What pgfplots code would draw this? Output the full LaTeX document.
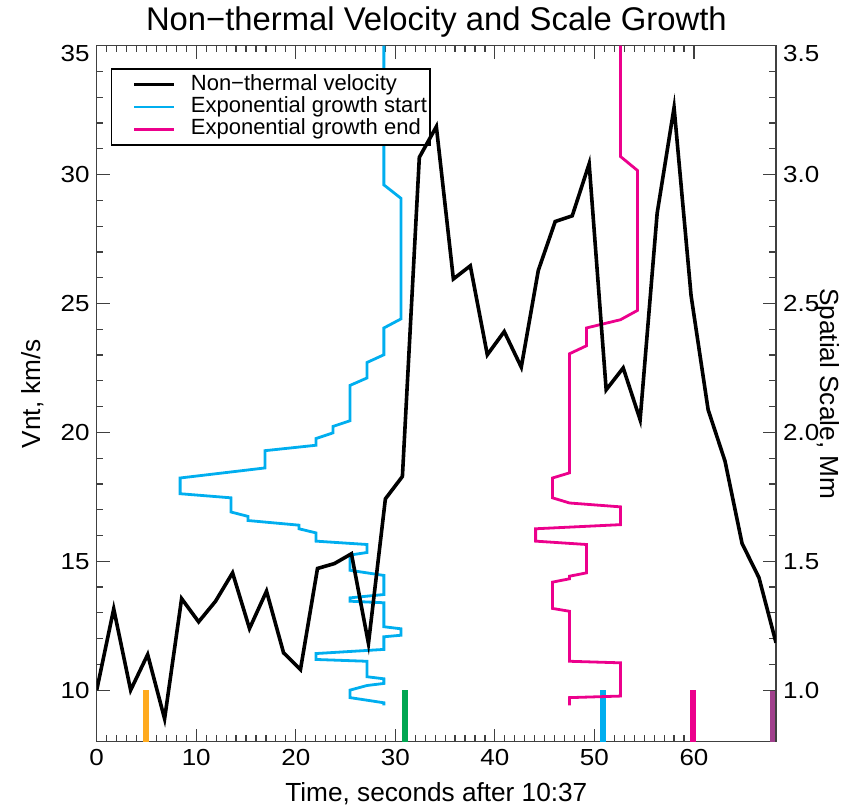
\documentclass[border=0pt]{standalone}
\usepackage{fontspec}
\setmainfont{Liberation Sans}
\newfontfamily\tickfont{Liberation Sans}[FakeStretch=1.12]
\usepackage{pgfplots}
\pgfplotsset{compat=1.18}
\definecolor{cblue}{RGB}{0,174,239}
\definecolor{cpink}{RGB}{236,0,140}
\definecolor{corange}{RGB}{255,170,30}
\definecolor{cgreen}{RGB}{0,166,81}
\definecolor{cpurple}{RGB}{160,64,140}
\begin{document}
\begin{tikzpicture}
\path[use as bounding box] (-48.35pt,-32.65pt) rectangle (376.15pt,370.85pt);
\pgfplotsset{
  common/.style={
    scale only axis, width=339.65pt, height=348pt,
    xmin=0, xmax=68.24,
    tick align=inside,
    major tick length=6.5pt, minor tick length=3.3pt,
    every tick/.style={black!75, line width=0.6pt},
    axis line style={black!75, line width=0.6pt},
    tick label style={font=\tickfont\fontsize{11.6}{11.6}\selectfont},
    label style={font=\fontsize{13.1}{13.1}\selectfont},
    /pgf/number format/assume math mode=true,
  }
}
\begin{axis}[common,
  ymin=8, ymax=35,
  xtick={0,10,...,60}, minor x tick num=9,
  ytick={10,15,...,35}, minor y tick num=4,
  yticklabels={10,15,20,25,30,\raisebox{-4pt}[\height][\depth]{35}},
  ytick pos=left,
  xticklabel style={yshift=-0.5pt},
  xlabel={Time, seconds after 10:37},
  ylabel={Vnt, km/s},
  xlabel style={at={(axis description cs:0.5,-0.074)}, anchor=center},
  ylabel style={at={(axis description cs:-0.094,0.5)}, anchor=center},
  title={Non−thermal Velocity and Scale Growth},
  every axis title/.style={font=\fontsize{16.4}{16.4}\selectfont, at={(axis description cs:0.5,1.034)}, anchor=center},
]
\addplot[corange, line width=3pt] coordinates {(4.98,8) (4.98,10)};
\addplot[cgreen, line width=3pt] coordinates {(30.93,8) (30.93,10)};
\addplot[cblue, line width=3pt] coordinates {(50.85,8) (50.85,10)};
\addplot[cpink, line width=3pt] coordinates {(59.9,8) (59.9,10)};
\addplot[cpurple, line width=3pt] coordinates {(67.9,8) (67.9,10)};
\end{axis}
\begin{axis}[common,
  ymin=0.8, ymax=3.5,
  axis x line=none,
  axis y line*=right,
  ytick={1,1.5,...,3.5}, minor y tick num=4,
  yticklabels={1.0,1.5,2.0,2.5,3.0,\raisebox{-4pt}[\height][\depth]{3.5}},
  ylabel={Spatial Scale, Mm},
  ylabel style={at={(axis description cs:1.076,0.5)}, anchor=center, rotate=180},
  legend style={at={(axis description cs:0.0206,0.9675)}, anchor=north west,
    font=\fontsize{11}{11}\selectfont, draw=black, line width=0.6pt,
    inner xsep=1.5pt, inner ysep=2.6pt, row sep=0.65pt, column sep=0pt,
    nodes={inner sep=0pt, text height=8pt, text depth=2.5pt},
    cells={anchor=west}},
  legend image code/.code={\path (0pt,0pt) (36.5pt,0pt); \draw[#1] (9pt,0pt) -- (29pt,0pt);},
  legend cell align=left,
]
\addlegendimage{black, line width=1.8pt}
\addlegendentry{Non−thermal velocity}
\addplot[cblue, line width=1.4pt] coordinates {
(28.85,3.5) (28.85,2.960) (30.56,2.908) (30.56,2.440) (28.85,2.405)
(28.85,2.301) (27.15,2.271) (27.15,2.211) (25.44,2.182) (25.44,2.045)
(23.73,2.023) (23.73,1.998) (22.03,1.976) (22.03,1.950) (16.91,1.929)
(16.91,1.862) (8.38,1.823) (8.38,1.762) (13.50,1.746) (13.50,1.691)
(15.20,1.674) (15.20,1.658) (20.32,1.640) (20.32,1.626) (22.03,1.610)
(22.03,1.578) (27.15,1.565) (27.15,1.534) (25.44,1.524) (25.44,1.465)
(28.85,1.445) (28.85,1.371) (25.44,1.358) (25.44,1.345) (28.85,1.339)
(28.85,1.246) (30.56,1.238) (30.56,1.213) (28.85,1.207) (28.85,1.158)
(22.03,1.142) (22.03,1.119) (27.15,1.112) (27.15,1.052) (28.85,1.044)
(28.85,1.026) (27.15,1.018) (25.44,1.000) (25.44,0.971) (27.15,0.961)
(28.85,0.951) (28.85,0.941)
};
\addlegendentry{Exponential growth start}
\addplot[cpink, line width=1.4pt] coordinates {
(52.62,3.5) (52.62,3.070) (54.32,3.016) (54.32,2.473) (52.62,2.437)
(49.20,2.405) (49.20,2.336) (47.50,2.305) (47.50,1.843) (45.79,1.823)
(45.79,1.746) (47.50,1.726) (52.62,1.711) (52.62,1.642) (44.09,1.626)
(44.09,1.578) (49.20,1.565) (49.20,1.455) (47.50,1.442) (47.50,1.432)
(45.79,1.419) (45.79,1.317) (47.50,1.306) (47.50,1.112) (52.62,1.106)
(52.62,0.977) (47.50,0.971) (47.50,0.941)
};
\addlegendentry{Exponential growth end}
\end{axis}
\begin{axis}[common, ymin=8, ymax=35, hide axis]
\addplot[black, line width=1.8pt, line join=miter] coordinates {
(0.00,10.00) (1.71,13.15) (3.41,10.00) (5.12,11.38) (6.82,8.89)
(8.53,13.55) (10.24,12.65) (11.94,13.45) (13.65,14.55) (15.35,12.39)
(17.06,13.84) (18.77,11.45) (20.47,10.80) (22.18,14.72) (23.88,14.91)
(25.59,15.29) (27.30,11.81) (29.00,17.42) (30.71,18.29) (32.41,30.67)
(34.12,31.86) (35.83,25.95) (37.53,26.46) (39.24,23.01) (40.94,23.91)
(42.65,22.53) (44.36,26.28) (46.06,28.18) (47.77,28.40) (49.47,30.42)
(51.18,21.65) (52.89,22.50) (54.59,20.49) (56.30,28.50) (58.00,32.60)
(59.71,25.30) (61.42,20.88) (63.12,18.88) (64.83,15.69) (66.53,14.36)
(68.24,11.84)
};
\end{axis}
\end{tikzpicture}
\end{document}
